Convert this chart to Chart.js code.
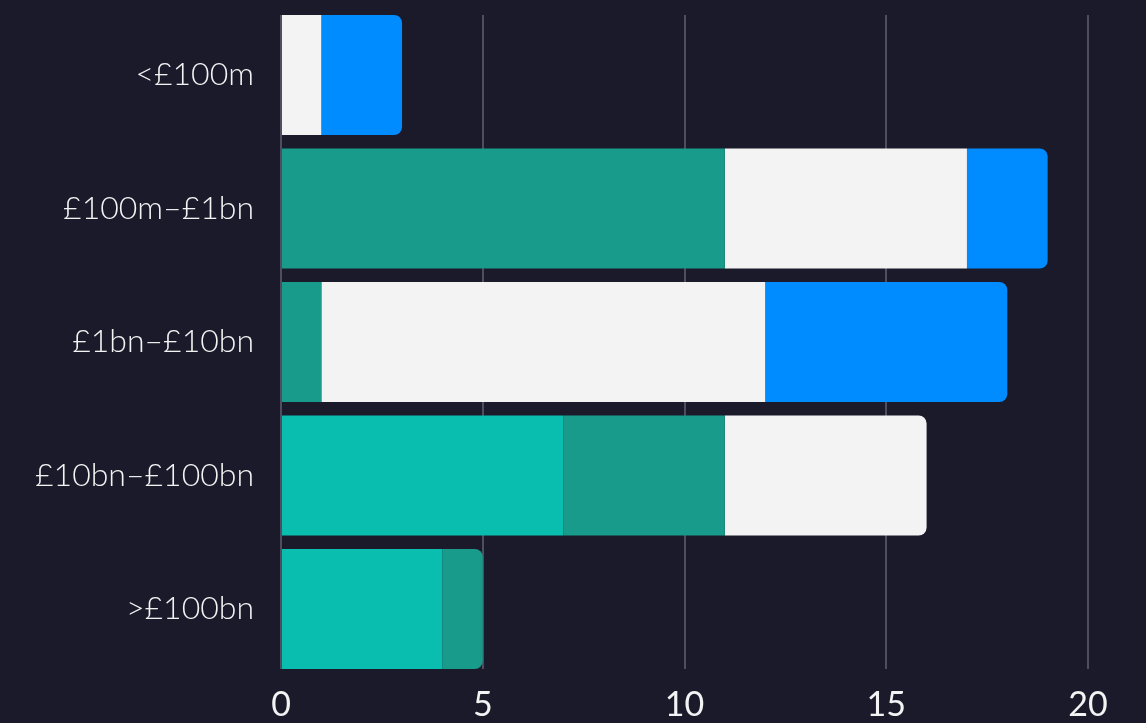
<!DOCTYPE html>
<html>
<head>
<meta charset="utf-8">
<script src="https://cdn.jsdelivr.net/npm/chart.js@4/dist/chart.umd.min.js"></script>
<style>
  html, body { margin: 0; padding: 0; background: #1b1a2b; }
  #wrap { width: 1146px; height: 723px; }
</style>
</head>
<body>
<div id="wrap"><canvas id="chart"></canvas></div>
<script>
const categories = ["<£100m", "£100m–£1bn", "£1bn–£10bn", "£10bn–£100bn", ">£100bn"];
const seriesColours = ["#09bdaf", "#189b8a", "#f3f3f3", "#008bff"];
const brightTeal = [0, 0, 0, 7, 4];
const darkTeal = [0, 11, 1, 4, 1];
const white = [1, 6, 11, 5, 0];
const blue = [2, 2, 6, 0, 0];
const xTicks = [0, 5, 10, 15, 20];

const series = [brightTeal, darkTeal, white, blue];

// last non-zero segment of each row gets the rounded end
const lastIndex = categories.map((_, i) => {
  let last = -1;
  series.forEach((s, d) => { if (s[i] > 0) last = d; });
  return last;
});

const datasets = series.map((values, d) => ({
  data: values.map((v, i) => ({ x: v, y: i })),
  backgroundColor: seriesColours[d],
  borderWidth: 0,
  borderSkipped: false,
  borderRadius: (ctx) => lastIndex[ctx.dataIndex] === d
    ? { topLeft: 0, bottomLeft: 0, topRight: 8, bottomRight: 8 }
    : 0,
  categoryPercentage: 1,
  barPercentage: 0.9,
}));

new Chart(document.getElementById("chart"), {
  type: "bar",
  data: { datasets },
  options: {
    indexAxis: "y",
    responsive: true,
    maintainAspectRatio: false,
    animation: false,
    layout: { padding: { top: 15, right: 58, left: 0, bottom: 0 } },
    plugins: { legend: { display: false }, tooltip: { enabled: false } },
    scales: {
      x: {
        type: "linear",
        stacked: true,
        min: 0,
        max: 20,
        afterBuildTicks: (s) => { s.ticks = xTicks.map((v) => ({ value: v })); },
        afterFit: (s) => { s.height = 54; s.paddingRight = 0; },
        grid: { color: "#4f4d60", lineWidth: 2, drawTicks: false },
        border: { display: false },
        ticks: {
          color: "#f3f3f3",
          padding: 16,
          font: { family: "Lato, 'DejaVu Sans', sans-serif", size: 34 },
        },
      },
      y: {
        type: "linear",
        stacked: true,
        reverse: true,
        offset: false,
        min: -0.45,
        max: 4.45,
        afterBuildTicks: (s) => { s.ticks = categories.map((_, i) => ({ value: i })); },
        afterFit: (s) => { s.width = 281; s.paddingTop = 0; s.paddingBottom = 0; },
        grid: { display: false, drawTicks: false },
        border: { display: false },
        ticks: {
          color: "#f3f3f3",
          padding: 27,
          callback: (v) => categories[v],
          font: { family: "Lato, 'DejaVu Sans Condensed', sans-serif", size: 32, weight: 300 },
        },
      },
    },
  },
});
</script>
</body>
</html>
